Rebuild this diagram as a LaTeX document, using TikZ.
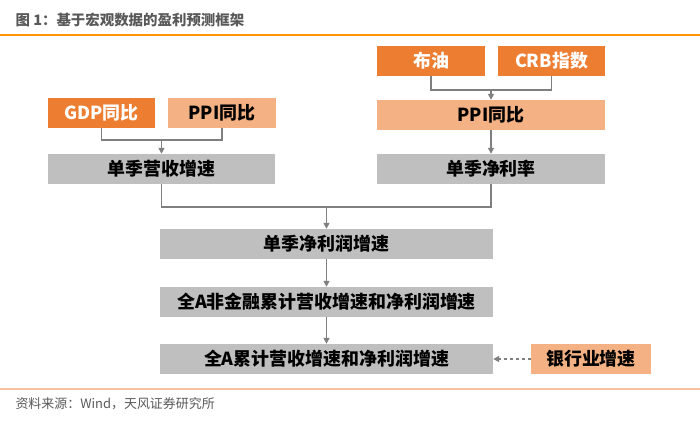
\documentclass[tikz,border=0pt]{standalone}
\usepackage{fontspec}
\usepackage{tikz}
\usetikzlibrary{arrows.meta}
\newfontfamily\cjk{Noto Sans CJK SC}
\definecolor{darkorange}{HTML}{ED7D31}
\definecolor{lightorange}{HTML}{F4B183}
\definecolor{boxgray}{HTML}{BFBFBF}
\definecolor{linegray}{HTML}{7F7F7F}
\definecolor{textgray}{HTML}{595959}
\tikzstyle{Box}=[rectangle, minimum height=30bp, inner sep=0pt, text=black, font=\cjk\bfseries\fontsize{18}{20}\selectfont]
\tikzstyle{Dark}=[Box, fill=darkorange, text=white]
\tikzstyle{Light}=[Box, fill=lightorange]
\tikzstyle{Gray}=[Box, fill=boxgray]
\tikzstyle{Link}=[draw=linegray, line width=1.8bp]
\tikzstyle{Arrow}=[Link, -{Triangle[length=6bp,width=6bp]}]

\begin{document}
\begin{tikzpicture}[x=1bp, y=-1bp]
    \useasboundingbox (0,0) rectangle (700,421);
    \path
    (12,20) node[anchor=west, text=textgray, font=\cjk\bfseries\fontsize{14.5}{17}\selectfont] (title) {图 1：基于宏观数据的盈利预测框架}
    (12,404) node[anchor=west, text=textgray, font=\cjk\fontsize{13}{16}\selectfont] (source) {资料来源：Wind，天风证券研究所};
    \draw[draw=orange!85!yellow, line width=1.2bp] (0,35) -- (700,35);
    \draw[draw=lightorange!80!white, line width=1.2bp] (0,389) -- (700,389);

    \path
    (101.5,113) node[Dark, minimum width=107bp] (gdp) {GDP同比}
    (222,113) node[Light, minimum width=108bp] (ppiL) {PPI同比}
    (161.5,169) node[Gray, minimum width=227bp] (rev) {单季营收增速}
    (431,61) node[Dark, minimum width=108bp] (oil) {布油}
    (551.5,61) node[Dark, minimum width=107bp] (crb) {CRB指数}
    (491,115) node[Light, minimum width=228bp] (ppiR) {PPI同比}
    (491,169) node[Gray, minimum width=228bp] (margin) {单季净利率}
    (326.5,244) node[Gray, minimum width=333bp] (npg) {单季净利润增速}
    (326.5,302) node[Gray, minimum width=333bp] (nonfin) {全A非金融累计营收增速和净利润增速}
    (326.5,359) node[Gray, minimum width=333bp] (total) {全A累计营收增速和净利润增速}
    (591,359) node[Light, minimum width=120bp] (bank) {银行业增速};

    \coordinate (jL) at (161.5,140);
    \coordinate (jR) at (491,90);
    \coordinate (jC) at (326.5,207);

    \draw[Link] (gdp) |- (jL) -| (ppiL);
    \draw[Arrow] (jL) -- (rev);
    \draw[Link] (oil) |- (jR) -| (crb);
    \draw[Arrow] (jR) -- (ppiR);
    \draw[Arrow] (ppiR) -- (margin);
    \draw[Link] (rev) |- (jC) -| (margin);
    \draw[Arrow] (jC) -- (npg);
    \draw[Arrow] (npg) -- (nonfin);
    \draw[Arrow] (nonfin) -- (total);
    \draw[Arrow, dashed] (bank) -- (total);
\end{tikzpicture}
\end{document}
